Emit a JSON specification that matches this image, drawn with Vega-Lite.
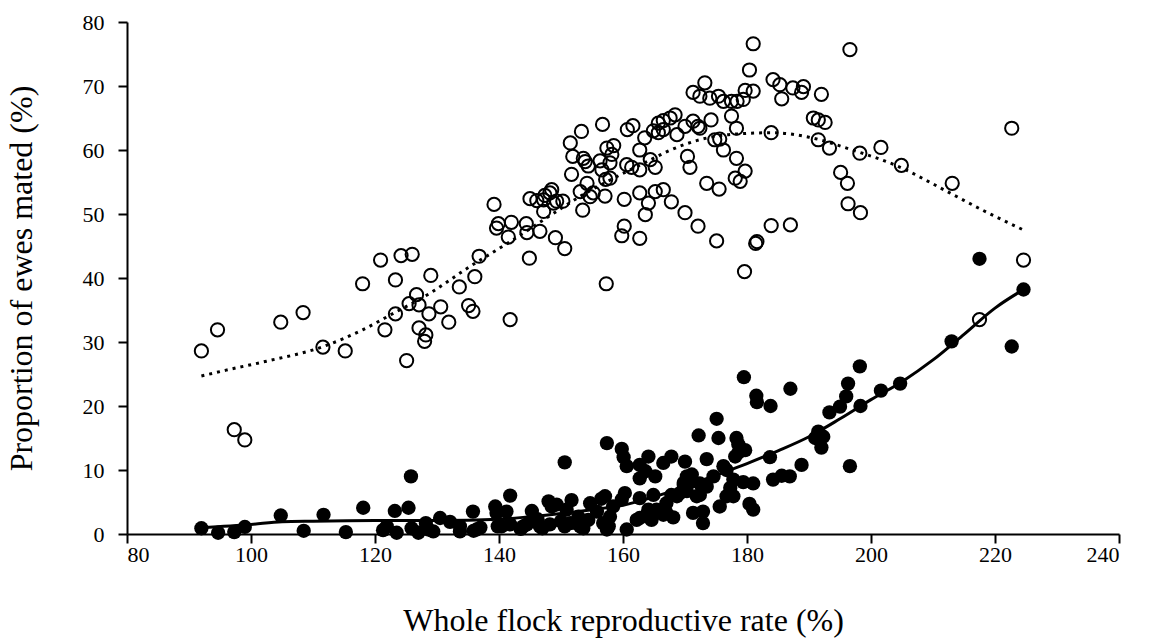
{
  "$schema": "https://vega.github.io/schema/vega-lite/v6.json",
  "width": 992,
  "height": 512,
  "autosize": {"type": "none"},
  "padding": {"left": 127, "top": 22, "right": 31, "bottom": 107},
  "background": "white",
  "config": {
    "font": "Liberation Serif",
    "view": {"stroke": null},
    "axis": {
      "grid": false,
      "domainColor": "black",
      "domainWidth": 2,
      "tickColor": "black",
      "tickWidth": 2,
      "tickSize": 9,
      "labelColor": "black",
      "titleColor": "black",
      "labelFont": "Liberation Serif",
      "titleFont": "Liberation Serif",
      "labelFontSize": 22,
      "titleFontSize": 32,
      "titleFontWeight": "normal"
    }
  },
  "datasets": {
    "open_pts": [
      {"rate":92.0,"pct":28.6},{"rate":94.6,"pct":31.9},{"rate":97.3,"pct":16.3},{"rate":99.0,"pct":14.7},
      {"rate":104.8,"pct":33.1},{"rate":108.4,"pct":34.6},{"rate":111.6,"pct":29.2},{"rate":115.2,"pct":28.6},
      {"rate":118.0,"pct":39.1},{"rate":120.9,"pct":42.8},{"rate":121.6,"pct":31.9},{"rate":123.3,"pct":39.7},
      {"rate":123.3,"pct":34.4},{"rate":124.2,"pct":43.5},{"rate":125.1,"pct":27.1},{"rate":125.5,"pct":36.0},
      {"rate":126.0,"pct":43.7},{"rate":126.7,"pct":37.4},{"rate":127.1,"pct":35.8},{"rate":127.1,"pct":32.2},
      {"rate":128.0,"pct":30.1},{"rate":128.2,"pct":31.1},{"rate":128.7,"pct":34.4},{"rate":129.0,"pct":40.4},
      {"rate":130.6,"pct":35.5},{"rate":131.9,"pct":33.1},{"rate":133.6,"pct":38.6},{"rate":135.1,"pct":35.7},
      {"rate":135.8,"pct":34.8},{"rate":136.1,"pct":40.2},{"rate":136.8,"pct":43.4},{"rate":139.2,"pct":51.5},
      {"rate":139.6,"pct":47.8},{"rate":139.9,"pct":48.5},{"rate":141.5,"pct":46.4},{"rate":141.8,"pct":33.5},
      {"rate":142.0,"pct":48.7},{"rate":144.4,"pct":48.5},{"rate":144.5,"pct":47.1},{"rate":144.9,"pct":43.1},
      {"rate":145.0,"pct":52.4},{"rate":146.1,"pct":52.1},{"rate":146.6,"pct":47.3},{"rate":147.2,"pct":50.4},
      {"rate":147.2,"pct":52.2},{"rate":147.4,"pct":52.9},{"rate":148.2,"pct":53.3},{"rate":148.5,"pct":53.8},
      {"rate":148.8,"pct":51.7},{"rate":149.1,"pct":46.3},{"rate":149.3,"pct":52.0},{"rate":150.3,"pct":52.0},
      {"rate":150.6,"pct":44.6},{"rate":151.5,"pct":61.1},{"rate":151.7,"pct":56.2},{"rate":151.9,"pct":59.0},
      {"rate":153.1,"pct":53.5},{"rate":153.3,"pct":62.9},{"rate":153.5,"pct":50.6},{"rate":153.6,"pct":58.7},
      {"rate":153.9,"pct":58.2},{"rate":154.2,"pct":54.8},{"rate":154.4,"pct":57.5},{"rate":154.7,"pct":52.7},
      {"rate":155.2,"pct":53.3},{"rate":156.3,"pct":58.3},{"rate":156.6,"pct":56.9},{"rate":156.7,"pct":64.0},
      {"rate":157.1,"pct":52.8},{"rate":157.2,"pct":55.4},{"rate":157.3,"pct":39.1},{"rate":157.4,"pct":60.3},
      {"rate":157.9,"pct":58.0},{"rate":157.9,"pct":55.6},{"rate":158.2,"pct":59.3},{"rate":158.5,"pct":60.7},
      {"rate":159.8,"pct":46.6},{"rate":160.2,"pct":48.1},{"rate":160.2,"pct":52.3},{"rate":160.6,"pct":57.7},
      {"rate":160.7,"pct":63.2},{"rate":161.4,"pct":57.3},{"rate":161.6,"pct":63.8},{"rate":162.7,"pct":56.9},
      {"rate":162.7,"pct":60.0},{"rate":162.7,"pct":53.3},{"rate":162.7,"pct":46.2},{"rate":163.5,"pct":61.9},
      {"rate":163.6,"pct":49.9},{"rate":164.1,"pct":51.7},{"rate":164.4,"pct":58.5},{"rate":164.9,"pct":63.0},
      {"rate":165.2,"pct":53.5},{"rate":165.2,"pct":57.3},{"rate":165.7,"pct":62.7},{"rate":165.7,"pct":64.2},
      {"rate":166.5,"pct":63.2},{"rate":166.5,"pct":64.6},{"rate":166.5,"pct":53.8},{"rate":167.6,"pct":65.0},
      {"rate":167.8,"pct":51.9},{"rate":168.4,"pct":65.5},{"rate":168.7,"pct":62.4},{"rate":170.0,"pct":63.7},
      {"rate":170.0,"pct":50.2},{"rate":170.4,"pct":59.0},{"rate":170.8,"pct":57.3},{"rate":171.3,"pct":69.0},
      {"rate":171.3,"pct":64.5},{"rate":172.1,"pct":63.7},{"rate":172.1,"pct":48.1},{"rate":172.4,"pct":68.4},
      {"rate":172.4,"pct":63.4},{"rate":173.2,"pct":70.5},{"rate":173.5,"pct":54.8},{"rate":174.0,"pct":68.1},
      {"rate":174.2,"pct":64.7},{"rate":174.8,"pct":61.6},{"rate":175.1,"pct":45.8},{"rate":175.4,"pct":68.4},
      {"rate":175.5,"pct":53.9},{"rate":175.6,"pct":61.7},{"rate":176.2,"pct":60.0},{"rate":176.2,"pct":67.6},
      {"rate":177.5,"pct":67.6},{"rate":177.5,"pct":65.3},{"rate":178.3,"pct":63.4},{"rate":178.1,"pct":55.6},
      {"rate":178.3,"pct":58.7},{"rate":178.4,"pct":67.6},{"rate":178.9,"pct":55.1},{"rate":179.4,"pct":67.9},
      {"rate":179.6,"pct":41.0},{"rate":179.7,"pct":69.3},{"rate":179.7,"pct":56.7},{"rate":180.4,"pct":72.5},
      {"rate":181.0,"pct":76.6},{"rate":181.0,"pct":69.2},{"rate":181.4,"pct":45.4},{"rate":181.6,"pct":45.7},
      {"rate":183.9,"pct":62.7},{"rate":183.9,"pct":48.2},{"rate":184.2,"pct":71.0},{"rate":185.3,"pct":70.2},
      {"rate":185.6,"pct":68.0},{"rate":187.0,"pct":48.3},{"rate":187.4,"pct":69.7},{"rate":188.8,"pct":69.0},
      {"rate":189.1,"pct":69.9},{"rate":190.7,"pct":65.0},{"rate":191.5,"pct":64.7},{"rate":191.5,"pct":61.6},
      {"rate":192.0,"pct":68.7},{"rate":192.6,"pct":64.3},{"rate":193.3,"pct":60.3},{"rate":195.1,"pct":56.5},
      {"rate":196.2,"pct":54.8},{"rate":196.3,"pct":51.6},{"rate":196.6,"pct":75.7},{"rate":198.2,"pct":59.5},
      {"rate":198.3,"pct":50.2},{"rate":201.6,"pct":60.4},{"rate":204.9,"pct":57.6},{"rate":213.1,"pct":54.8},
      {"rate":217.5,"pct":33.5},{"rate":222.7,"pct":63.4},{"rate":224.6,"pct":42.8}
    ],
    "filled_pts": [
      {"rate":92.0,"pct":0.9},{"rate":94.7,"pct":0.2},{"rate":97.3,"pct":0.3},{"rate":99.0,"pct":1.1},
      {"rate":104.8,"pct":2.9},{"rate":108.5,"pct":0.5},{"rate":111.7,"pct":3.0},{"rate":115.3,"pct":0.3},
      {"rate":118.1,"pct":4.1},{"rate":121.3,"pct":0.6},{"rate":121.9,"pct":1.2},{"rate":123.2,"pct":3.6},
      {"rate":123.5,"pct":0.2},{"rate":125.4,"pct":4.1},{"rate":125.8,"pct":9.0},{"rate":125.9,"pct":0.9},
      {"rate":127.0,"pct":0.2},{"rate":128.2,"pct":1.7},{"rate":128.6,"pct":0.7},{"rate":129.4,"pct":0.4},
      {"rate":130.5,"pct":2.5},{"rate":132.1,"pct":1.9},{"rate":133.7,"pct":0.4},{"rate":133.7,"pct":1.2},
      {"rate":135.8,"pct":3.5},{"rate":135.9,"pct":0.5},{"rate":136.4,"pct":0.7},{"rate":137.0,"pct":1.0},
      {"rate":139.4,"pct":4.3},{"rate":139.6,"pct":3.3},{"rate":139.8,"pct":1.2},{"rate":140.4,"pct":1.2},
      {"rate":141.2,"pct":3.5},{"rate":141.8,"pct":6.0},{"rate":141.8,"pct":1.5},{"rate":143.5,"pct":0.8},
      {"rate":143.9,"pct":1.2},{"rate":144.5,"pct":1.5},{"rate":145.3,"pct":3.6},{"rate":145.5,"pct":2.0},
      {"rate":146.2,"pct":2.3},{"rate":146.6,"pct":1.2},{"rate":147.0,"pct":0.9},{"rate":148.0,"pct":5.1},
      {"rate":148.2,"pct":1.5},{"rate":148.5,"pct":4.3},{"rate":149.3,"pct":4.6},{"rate":150.0,"pct":2.0},
      {"rate":150.6,"pct":11.2},{"rate":150.6,"pct":1.2},{"rate":150.9,"pct":3.8},{"rate":151.5,"pct":1.7},
      {"rate":151.7,"pct":5.3},{"rate":152.5,"pct":1.7},{"rate":152.8,"pct":2.7},{"rate":153.1,"pct":1.2},
      {"rate":153.6,"pct":0.9},{"rate":154.4,"pct":2.2},{"rate":154.7,"pct":4.8},{"rate":155.8,"pct":3.5},
      {"rate":156.5,"pct":5.5},{"rate":156.8,"pct":1.7},{"rate":157.1,"pct":5.9},{"rate":157.4,"pct":14.2},
      {"rate":157.4,"pct":0.7},{"rate":157.7,"pct":1.2},{"rate":157.9,"pct":2.7},{"rate":158.4,"pct":4.3},
      {"rate":159.8,"pct":13.3},{"rate":159.8,"pct":5.4},{"rate":160.1,"pct":12.0},{"rate":160.3,"pct":6.4},
      {"rate":160.6,"pct":10.6},{"rate":160.6,"pct":0.7},{"rate":162.2,"pct":2.2},{"rate":162.7,"pct":10.8},
      {"rate":162.7,"pct":8.7},{"rate":162.7,"pct":5.6},{"rate":162.7,"pct":2.5},{"rate":163.6,"pct":9.8},
      {"rate":163.8,"pct":3.0},{"rate":164.1,"pct":12.1},{"rate":164.1,"pct":3.8},{"rate":164.6,"pct":2.2},
      {"rate":164.9,"pct":6.1},{"rate":165.2,"pct":9.0},{"rate":165.4,"pct":3.8},{"rate":166.5,"pct":11.1},
      {"rate":166.5,"pct":3.0},{"rate":167.0,"pct":4.8},{"rate":167.0,"pct":3.3},{"rate":167.8,"pct":12.1},
      {"rate":167.8,"pct":6.1},{"rate":168.1,"pct":2.6},{"rate":168.7,"pct":5.9},{"rate":169.2,"pct":6.4},
      {"rate":169.8,"pct":7.7},{"rate":169.8,"pct":8.0},{"rate":170.0,"pct":11.3},{"rate":170.3,"pct":9.0},
      {"rate":170.3,"pct":6.7},{"rate":171.1,"pct":9.3},{"rate":171.1,"pct":8.2},{"rate":171.3,"pct":3.3},
      {"rate":171.9,"pct":5.9},{"rate":172.2,"pct":15.4},{"rate":172.4,"pct":7.9},{"rate":172.4,"pct":6.1},
      {"rate":172.9,"pct":3.5},{"rate":172.9,"pct":1.7},{"rate":173.5,"pct":11.7},{"rate":173.5,"pct":7.4},
      {"rate":174.6,"pct":9.0},{"rate":175.1,"pct":18.0},{"rate":175.4,"pct":15.0},{"rate":175.6,"pct":4.3},
      {"rate":176.2,"pct":10.6},{"rate":176.7,"pct":5.9},{"rate":176.7,"pct":10.0},{"rate":177.3,"pct":7.2},
      {"rate":177.8,"pct":8.5},{"rate":177.8,"pct":5.9},{"rate":178.1,"pct":12.1},{"rate":178.3,"pct":15.0},
      {"rate":178.6,"pct":12.7},{"rate":178.6,"pct":14.0},{"rate":179.4,"pct":8.1},{"rate":179.5,"pct":24.5},
      {"rate":179.7,"pct":13.1},{"rate":180.4,"pct":4.7},{"rate":181.0,"pct":7.9},{"rate":181.0,"pct":3.8},
      {"rate":181.5,"pct":21.6},{"rate":181.6,"pct":20.6},{"rate":183.7,"pct":12.0},{"rate":183.8,"pct":20.0},
      {"rate":184.2,"pct":8.5},{"rate":185.6,"pct":9.1},{"rate":187.0,"pct":22.7},{"rate":186.9,"pct":9.0},
      {"rate":188.8,"pct":10.8},{"rate":191.0,"pct":15.0},{"rate":191.5,"pct":16.0},{"rate":192.0,"pct":13.5},
      {"rate":192.3,"pct":15.2},{"rate":193.3,"pct":19.0},{"rate":195.0,"pct":19.9},{"rate":196.0,"pct":21.5},
      {"rate":196.3,"pct":23.5},{"rate":196.6,"pct":10.6},{"rate":198.2,"pct":26.2},{"rate":198.3,"pct":20.0},
      {"rate":201.6,"pct":22.4},{"rate":204.7,"pct":23.5},{"rate":213.0,"pct":30.1},{"rate":217.5,"pct":43.0},
      {"rate":222.7,"pct":29.3},{"rate":224.6,"pct":38.2}
    ],
    "open_trend": [
      {"rate":92.0,"pct":24.7},{"rate":96.0,"pct":25.6},{"rate":102.5,"pct":27.0},{"rate":111.7,"pct":29.3},
      {"rate":118.0,"pct":31.9},{"rate":123.0,"pct":34.5},{"rate":129.0,"pct":37.7},{"rate":135.0,"pct":41.6},
      {"rate":139.5,"pct":44.3},{"rate":142.0,"pct":45.8},{"rate":148.0,"pct":49.6},{"rate":153.0,"pct":52.7},
      {"rate":158.5,"pct":55.6},{"rate":164.5,"pct":58.5},{"rate":167.0,"pct":59.7},{"rate":172.0,"pct":61.5},
      {"rate":177.0,"pct":62.4},{"rate":184.0,"pct":62.7},{"rate":190.0,"pct":62.0},{"rate":197.0,"pct":60.0},
      {"rate":204.0,"pct":57.6},{"rate":212.7,"pct":53.3},{"rate":218.0,"pct":50.6},{"rate":224.6,"pct":47.5}
    ],
    "filled_trend": [
      {"rate":92.0,"pct":1.0},{"rate":100.0,"pct":1.5},{"rate":105.0,"pct":1.9},{"rate":110.0,"pct":2.0},
      {"rate":120.0,"pct":2.1},{"rate":130.0,"pct":2.1},{"rate":140.0,"pct":2.3},{"rate":145.0,"pct":2.7},
      {"rate":150.0,"pct":3.2},{"rate":155.0,"pct":3.8},{"rate":160.0,"pct":4.5},{"rate":165.0,"pct":5.8},
      {"rate":170.0,"pct":7.4},{"rate":175.0,"pct":9.2},{"rate":180.0,"pct":11.0},{"rate":185.0,"pct":13.0},
      {"rate":190.0,"pct":15.2},{"rate":195.0,"pct":18.0},{"rate":200.0,"pct":21.0},{"rate":205.0,"pct":23.8},
      {"rate":210.0,"pct":27.2},{"rate":215.0,"pct":31.2},{"rate":220.0,"pct":35.3},{"rate":224.6,"pct":38.2}
    ]
  },
  "encoding": {
    "x": {
      "field": "rate",
      "type": "quantitative",
      "scale": {"domain": [80, 240], "nice": false, "zero": false},
      "axis": {
        "title": "Whole flock reproductive rate (%)",
        "values": [80, 100, 120, 140, 160, 180, 200, 220, 240],
        "labelPadding": 1,
        "titlePadding": 40
      }
    },
    "y": {
      "field": "pct",
      "type": "quantitative",
      "scale": {"domain": [0, 80], "nice": false},
      "axis": {
        "title": "Proportion of ewes mated (%)",
        "values": [0, 10, 20, 30, 40, 50, 60, 70, 80],
        "labelPadding": 14,
        "titlePadding": 44
      }
    }
  },
  "layer": [
    {
      "data": {"name": "filled_pts"},
      "mark": {"type": "point", "shape": "circle", "filled": true, "fill": "black", "stroke": null, "size": 205, "opacity": 1}
    },
    {
      "data": {"name": "open_pts"},
      "mark": {"type": "point", "shape": "circle", "filled": false, "stroke": "black", "strokeWidth": 2, "size": 175, "opacity": 1}
    },
    {
      "data": {"name": "open_trend"},
      "mark": {"type": "line", "color": "black", "strokeWidth": 3, "strokeDash": [3, 5], "interpolate": "monotone"}
    },
    {
      "data": {"name": "filled_trend"},
      "mark": {"type": "line", "color": "black", "strokeWidth": 3, "interpolate": "monotone"}
    }
  ]
}
